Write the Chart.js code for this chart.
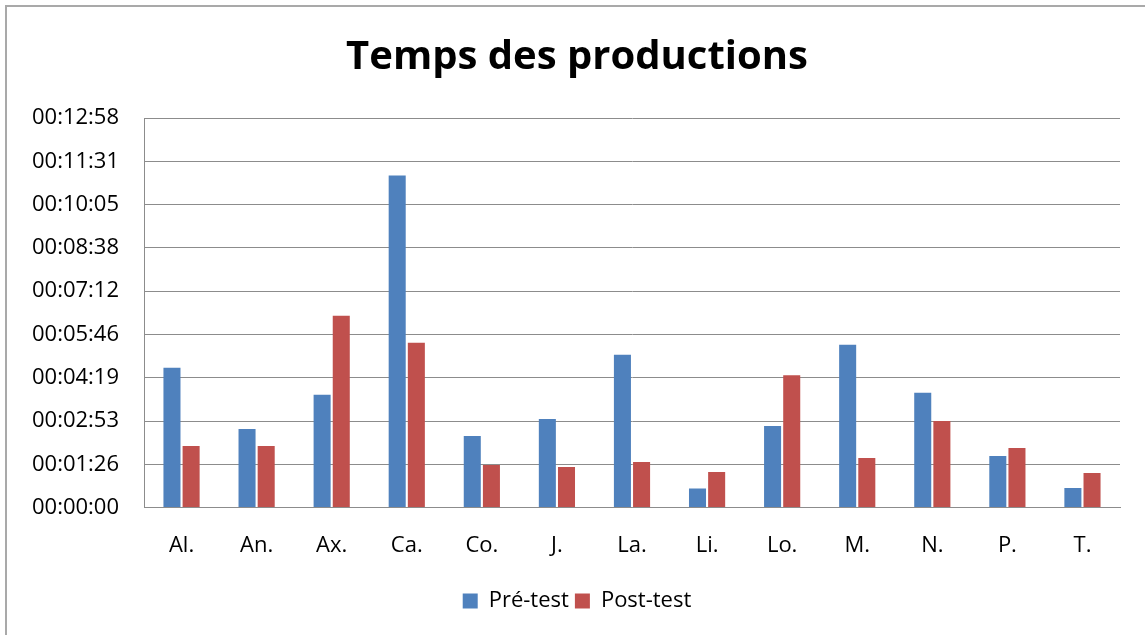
<!DOCTYPE html>
<html>
<head>
<meta charset="utf-8">
<script src="https://cdn.jsdelivr.net/npm/chart.js@4/dist/chart.umd.min.js"></script>
<style>
  html, body { margin: 0; padding: 0; background: #fff; }
  #wrap { position: relative; width: 1145px; height: 635px; overflow: hidden; }
  #frame { position: absolute; left: 5px; top: 5px; width: 1200px; height: 700px; border-left: 2px solid #A9A9A9; border-top: 2px solid #A9A9A9; box-sizing: border-box; pointer-events: none; }
  canvas { position: absolute; left: 0; top: 0; }
</style>
</head>
<body>
<div id="wrap">
  <canvas id="c" width="1145" height="635"></canvas>
  <div id="frame"></div>
</div>
<script>
const titleText = "Temps des productions";
const categories = ["Al.", "An.", "Ax.", "Ca.", "Co.", "J.", "La.", "Li.", "Lo.", "M.", "N.", "P.", "T."];
const seriesNames = ["Pré-test", "Post-test"];
// durations in seconds
const preTest  = [279, 157, 225, 663, 143, 177, 305, 38, 163, 325, 229, 103, 39];
const postTest = [123, 123, 383, 329, 85, 81, 91, 71, 264, 99, 173, 119, 69];
const tickValues = [0, 86.4, 172.8, 259.2, 345.6, 432, 518.4, 604.8, 691.2, 777.6];
const tickLabels = ["00:00:00", "00:01:26", "00:02:53", "00:04:19", "00:05:46", "00:07:12", "00:08:38", "00:10:05", "00:11:31", "00:12:58"];

const FONT = "'Open Sans', 'Liberation Sans', sans-serif";
const gridColor = "#8C8C8C";

new Chart(document.getElementById("c"), {
  type: "bar",
  data: {
    labels: categories,
    datasets: [
      { label: seriesNames[0], data: preTest, backgroundColor: "#4F81BD", borderWidth: 0 },
      { label: seriesNames[1], data: postTest, backgroundColor: "#C0504D", borderWidth: 0 }
    ]
  },
  options: {
    responsive: false,
    animation: false,
    devicePixelRatio: 1,
    layout: { padding: { left: 9, right: 0, top: 11, bottom: 13 } },
    datasets: { bar: { categoryPercentage: 0.51, barPercentage: 0.89 } },
    plugins: {
      title: {
        display: true,
        text: titleText,
        color: "#000",
        font: { family: FONT, size: 40, weight: "bold", lineHeight: 1.2 },
        padding: { top: 23, bottom: 36 }
      },
      legend: {
        position: "bottom",
        labels: {
          color: "#000",
          font: { family: FONT, size: 22 },
          boxWidth: 15,
          boxHeight: 15,
          padding: 6
        }
      },
      tooltip: { enabled: false }
    },
    scales: {
      x: {
        grid: { display: false, drawTicks: false },
        border: { display: true, color: gridColor, width: 1 },
        ticks: { color: "#000", font: { family: FONT, size: 22 }, padding: 25 }
      },
      y: {
        min: 0,
        max: tickValues[tickValues.length - 1],
        afterBuildTicks: (scale) => { scale.ticks = tickValues.map(v => ({ value: v })); },
        afterFit: (scale) => { scale.width = 135; },
        grid: { color: gridColor, lineWidth: 1, drawTicks: false },
        border: { display: true, color: gridColor, width: 1 },
        ticks: {
          color: "#000",
          font: { family: FONT, size: 22 },
          padding: 25,
          callback: (v, i) => tickLabels[i]
        }
      },
      yRight: {
        position: "right",
        display: true,
        grid: { display: false, drawTicks: false },
        border: { display: false },
        ticks: { display: false },
        afterFit: (scale) => { scale.width = 25; }
      }
    }
  }
});
</script>
</body>
</html>
